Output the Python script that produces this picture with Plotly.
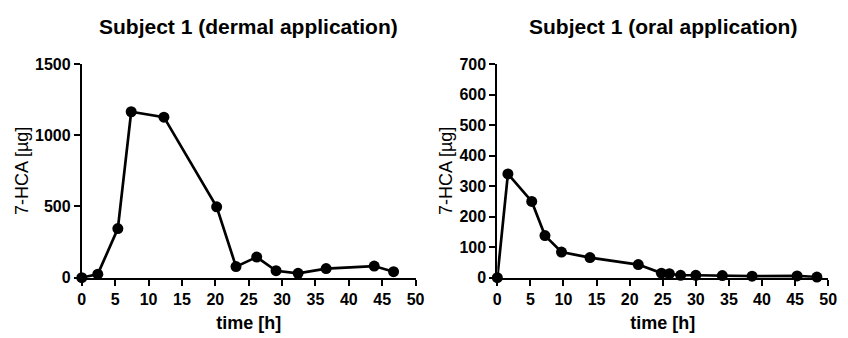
import plotly.graph_objects as go

# Dermal application (left)
dermal_time = [0, 2.4, 5.4, 7.4, 12.3, 20.2, 23.1, 26.2, 29.1, 32.4, 36.6, 43.8, 46.7]
dermal_hca = [0, 25, 345, 1165, 1127, 498, 78, 145, 49, 31, 64, 82, 42]

# Oral application (right)
oral_time = [0, 1.6, 5.2, 7.2, 9.7, 14.0, 21.3, 24.8, 26.0, 27.7, 30.0, 34.0, 38.5, 45.3, 48.3]
oral_hca = [0, 340, 250, 138, 84, 66, 43, 15, 13, 8, 8, 7, 5, 6, 2]

titles = ["Subject 1 (dermal application)", "Subject 1 (oral application)"]
x_ticks = [0, 5, 10, 15, 20, 25, 30, 35, 40, 45, 50]
dermal_yticks = [0, 500, 1000, 1500]
oral_yticks = [0, 100, 200, 300, 400, 500, 600, 700]

W, H = 848, 338
FONT = "Liberation Sans Narrow, Arial Narrow, Liberation Sans, Arial"

fig = go.Figure()
line_style = dict(color="black", width=2.7)
marker_style = dict(color="black", size=11)
fig.add_trace(go.Scatter(x=dermal_time, y=dermal_hca, mode="lines+markers",
                         line=line_style, marker=marker_style, cliponaxis=False,
                         xaxis="x", yaxis="y", showlegend=False))
fig.add_trace(go.Scatter(x=oral_time, y=oral_hca, mode="lines+markers",
                         line=line_style, marker=marker_style, cliponaxis=False,
                         xaxis="x2", yaxis="y2", showlegend=False))

tickfont = dict(family=FONT, size=16, color="black", weight="bold")
def xax(domain, anchor):
    return dict(domain=domain, anchor=anchor, range=[0, 50], tickvals=x_ticks,
                showgrid=False, zeroline=False, showline=True, linecolor="black", linewidth=2,
                ticks="outside", ticklen=6, tickwidth=2, tickcolor="black",
                tickfont=tickfont,
                title=dict(text="time [h]", font=dict(family=FONT, size=18, color="black", weight="bold"),
                           standoff=9))
def yax(domain, anchor, rng, tv):
    return dict(domain=domain, anchor=anchor, range=rng, tickvals=tv,
                showgrid=False, zeroline=False, showline=True, linecolor="black", linewidth=2,
                ticks="outside", ticklen=6, tickwidth=2, tickcolor="black",
                tickfont=tickfont,
                title=dict(text="7-HCA [µg]", font=dict(family="Liberation Sans, Arial", size=18, color="black"),
                           standoff=2))

ydom = [54 / H, 279 / H]
fig.update_layout(
    width=W, height=H, margin=dict(l=0, r=0, t=0, b=0),
    paper_bgcolor="white", plot_bgcolor="white",
    xaxis=xax([79 / W, 418 / W], "y"),
    yaxis=yax(ydom, "x", [0, 1500], dermal_yticks),
    xaxis2=xax([501 / W, 837 / W], "y2"),
    yaxis2=yax(ydom, "x2", [0, 700], oral_yticks),
)
for t, cx in zip(titles, [(79 + 418) / 2 / W, (501 + 837) / 2 / W]):
    fig.add_annotation(text=t, x=cx, y=1 - 19 / H, xref="paper", yref="paper",
                       showarrow=False, xanchor="center", yanchor="middle",
                       font=dict(family=FONT, size=21, color="black", weight="bold"))

fig.write_html("out.html")
